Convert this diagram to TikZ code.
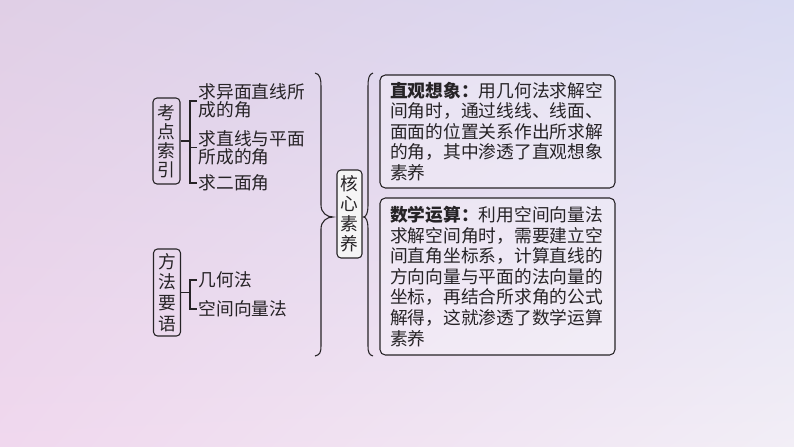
\documentclass[tikz,border=0pt]{standalone}
\usepackage{fontspec}
\newfontfamily\cjk{Noto Sans CJK SC}
\usetikzlibrary{positioning,shadings}
\definecolor{ink}{HTML}{262326}
\definecolor{bgtl}{HTML}{E0CFE6}
\definecolor{bgtr}{HTML}{D9DAF2}
\definecolor{bgbl}{HTML}{F0D8EE}
\definecolor{bgbr}{HTML}{F2EEF6}

\begin{document}
\begin{tikzpicture}[x=0.75pt,y=-0.75pt,
        line/.style={draw=ink, line width=0.8pt},
        item/.style={font=\cjk\fontsize{13.3pt}{13.6pt}\selectfont, text=ink, align=left, inner sep=1pt, anchor=west},
        vbox/.style={line, rounded corners=3pt, align=center, minimum width=20.25pt, minimum height=64.5pt, inner sep=1pt, text=ink},
        note/.style={line, rounded corners=4pt, fill=white, fill opacity=0.3, text opacity=1, minimum width=176.25pt, text width=161pt, inner xsep=7.6pt, align=left, text=ink, font=\cjk\fontsize{13.3pt}{15.4pt}\selectfont}]
    % background
    \shade[upper left=bgtl, upper right=bgtr, lower left=bgbl, lower right=bgbr] (0,0) rectangle (794,447);
    \useasboundingbox (0,0) rectangle (794,447);

    % left column
    \node[vbox, font=\cjk\fontsize{13.3pt}{14.3pt}\selectfont] (kd) at (166.5,141) {考\\点\\索\\引};
    \node[item] (m1) at (197,101) {求异面直线所\\成的角};
    \node[item] (m2) at (197,147.5) {求直线与平面\\所成的角};
    \node[item] (m3) at (197,183) {求二面角};
    \draw[line] (kd.east) -- ++(10,0);
    \draw[line] (m1.west) -- ++(-7,0) |- (m3.west);
    \draw[line] (m2.west) -- ++(-7,0);

    \node[vbox, font=\cjk\fontsize{13.3pt}{15.5pt}\selectfont, minimum height=65.25pt] (ff) at (167,292.5) {方\\法\\要\\语};
    \node[item] (m4) at (197,280) {几何法};
    \node[item] (m5) at (197,309) {空间向量法};
    \draw[line] (ff.east) -- ++(9,0);
    \draw[line] (m4.west) -- ++(-7,0) |- (m5.west);

    % middle
    \draw[line] (315,73) .. controls (320,74) and (321,79) .. (321,86) -- (321,205)
        .. controls (321,213) and (327,217) .. (333,217)
        .. controls (327,217) and (321,221) .. (321,229) -- (321,346)
        .. controls (321,352) and (320,355) .. (315,356);
    \node[vbox, fill=white!92!gray, font=\cjk\fontsize{13.3pt}{15pt}\selectfont, minimum width=18.75pt, minimum height=66pt] (hx) at (349.5,214) {核\\心\\素\\养};
    \draw[line] (373,73) .. controls (369,74) and (368,79) .. (368,86) -- (368,206)
        .. controls (368,213) and (366,217) .. (363.5,217)
        .. controls (366,217) and (368,221) .. (368,228) -- (368,346)
        .. controls (368,352) and (369,355) .. (373,356);

    % right column
    \node[note, minimum height=84.75pt] (s1) at (497.5,131.5) {\textbf{直观想象：}用几何法求解空\\间角时，通过线线、线面、\\面面的位置关系作出所求解\\的角，其中渗透了直观想象\\素养};
    \node[note, minimum height=117.75pt] (s2) at (497.5,276.5) {\textbf{数学运算：}利用空间向量法\\求解空间角时，需要建立空\\间直角坐标系，计算直线的\\方向向量与平面的法向量的\\坐标，再结合所求角的公式\\解得，这就渗透了数学运算\\素养};
\end{tikzpicture}
\end{document}
